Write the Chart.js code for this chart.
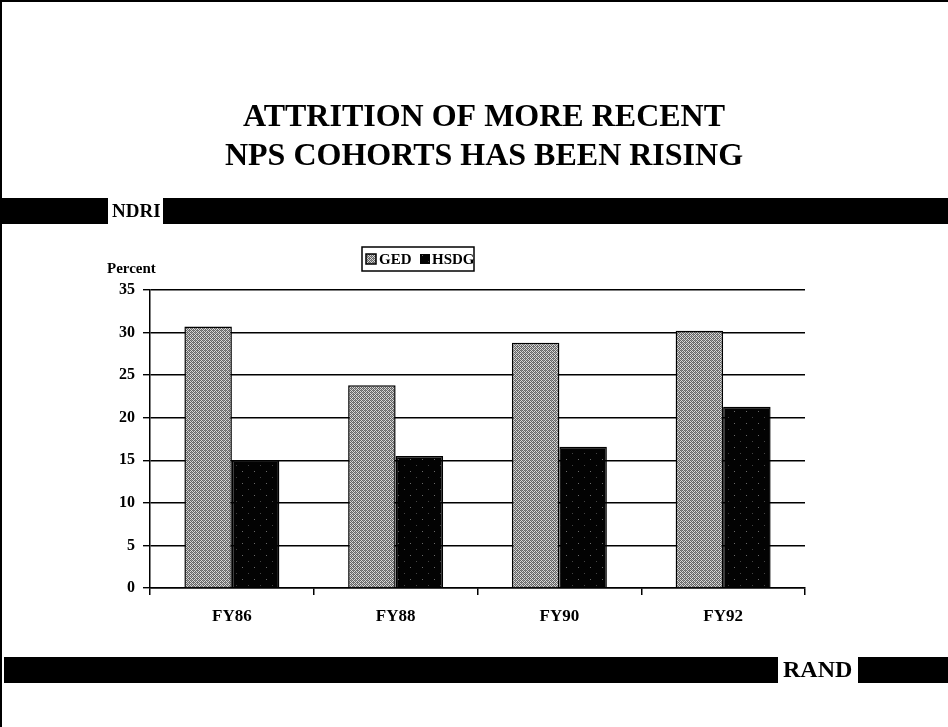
<!DOCTYPE html>
<html>
<head>
<meta charset="utf-8">
<style>
  html, body { margin: 0; padding: 0; background: #fff; }
  canvas { display: block; }
</style>
</head>
<body>
<canvas id="attritionChart" width="948" height="727"></canvas>
<script src="https://cdn.jsdelivr.net/npm/chart.js@4.4.0/dist/chart.umd.min.js"></script>
<script>
const categories = ['FY86', 'FY88', 'FY90', 'FY92'];
const gedValues = [30.7, 23.8, 28.8, 30.2];
const hsdgValues = [15.0, 15.5, 16.6, 21.3];
const seriesNames = ['GED', 'HSDG'];
const titleLines = ['ATTRITION OF MORE RECENT', 'NPS COHORTS HAS BEEN RISING'];

const serif = '"Liberation Serif", "DejaVu Serif", serif';

// small tiles to imitate the dithered fills of the scan
function makePattern(cells, size, base) {
  const c = document.createElement('canvas');
  c.width = size; c.height = size;
  const g = c.getContext('2d');
  g.fillStyle = base;
  g.fillRect(0, 0, size, size);
  cells.forEach(function (cell) {
    g.fillStyle = cell[2];
    g.fillRect(cell[0], cell[1], 1, 1);
  });
  return g.createPattern(c, 'repeat');
}

const gedCells = [];
for (let y = 0; y < 4; y++) {
  for (let x = 0; x < 4; x++) {
    if ((x + y) % 2 === 0) gedCells.push([x, y, '#646464']);
  }
}
gedCells.push([1, 2, '#888'], [3, 0, '#999']);
const hsdgCells = [[2, 3, '#6a6a6a'], [8, 9, '#444']];

const ctx = document.getElementById('attritionChart').getContext('2d');
const gedFill = makePattern(gedCells, 4, '#d8d8d8');
const hsdgFill = makePattern(hsdgCells, 12, '#030303');

const slideDecor = {
  id: 'slideDecor',
  beforeDraw: function (chart) {
    const c = chart.ctx;
    c.save();
    c.fillStyle = '#fff';
    c.fillRect(0, 0, chart.width, chart.height);

    // frame (top and left edges of the scanned slide)
    c.fillStyle = '#000';
    c.fillRect(0, 0, chart.width, 2);
    c.fillRect(0, 0, 2, chart.height);

    // title
    c.font = 'bold 32px ' + serif;
    c.textAlign = 'center';
    c.textBaseline = 'middle';
    c.fillText(titleLines[0], 484, 118);
    c.fillText(titleLines[1], 484, 157);

    // NDRI band
    c.fillRect(0, 198, 108, 26);
    c.fillRect(163, 198, chart.width - 163, 26);
    c.font = 'bold 19px ' + serif;
    c.textAlign = 'left';
    c.fillText('NDRI', 112, 212);

    // RAND band
    c.fillRect(4, 657, 774, 26);
    c.fillRect(858, 657, chart.width - 858, 26);
    c.font = 'bold 24px ' + serif;
    c.fillText('RAND', 783, 671);

    // legend
    c.lineWidth = 1.5;
    c.strokeStyle = '#000';
    c.strokeRect(362, 247, 112, 24);
    c.fillStyle = gedFill;
    c.fillRect(366, 254, 10, 10);
    c.strokeRect(366, 254, 10, 10);
    c.fillStyle = hsdgFill;
    c.fillRect(420, 254, 10, 10);
    c.fillStyle = '#000';
    c.font = 'bold 15px ' + serif;
    c.fillText(seriesNames[0], 379, 260);
    c.fillText(seriesNames[1], 432, 260);

    // axis caption
    c.font = 'bold 15px ' + serif;
    c.fillText('Percent', 107, 269);
    c.restore();
  }
};

new Chart(ctx, {
  type: 'bar',
  data: {
    labels: categories,
    datasets: [{
      label: seriesNames[0],
      data: gedValues,
      backgroundColor: gedFill,
      borderColor: '#000',
      borderWidth: 1.5,
      barPercentage: 1,
      categoryPercentage: 0.58
    }, {
      label: seriesNames[1],
      data: hsdgValues,
      backgroundColor: hsdgFill,
      borderColor: '#000',
      borderWidth: 1.5,
      barPercentage: 1,
      categoryPercentage: 0.58
    }]
  },
  options: {
    responsive: false,
    animation: false,
    layout: { padding: { top: 290, right: 143, bottom: 79, left: 0 } },
    plugins: {
      legend: { display: false },
      title: { display: false },
      tooltip: { enabled: false }
    },
    scales: {
      x: {
        afterFit: function (scale) { scale.height = 60; },
        border: { display: true, color: '#000', width: 1.5 },
        grid: { display: true, drawOnChartArea: false, drawTicks: true, tickLength: 7, color: '#000', lineWidth: 1.5 },
        ticks: { color: '#000', padding: 11, font: { family: serif, size: 17, weight: 'bold' } }
      },
      y: {
        min: 0,
        max: 35,
        afterFit: function (scale) { scale.width = 150; },
        border: { display: true, color: '#000', width: 1.5 },
        grid: { color: '#000', lineWidth: 1.4, tickLength: 7 },
        ticks: { stepSize: 5, color: '#000', padding: 8, font: { family: serif, size: 16, weight: 'bold' } }
      }
    }
  },
  plugins: [slideDecor]
});
</script>
</body>
</html>
